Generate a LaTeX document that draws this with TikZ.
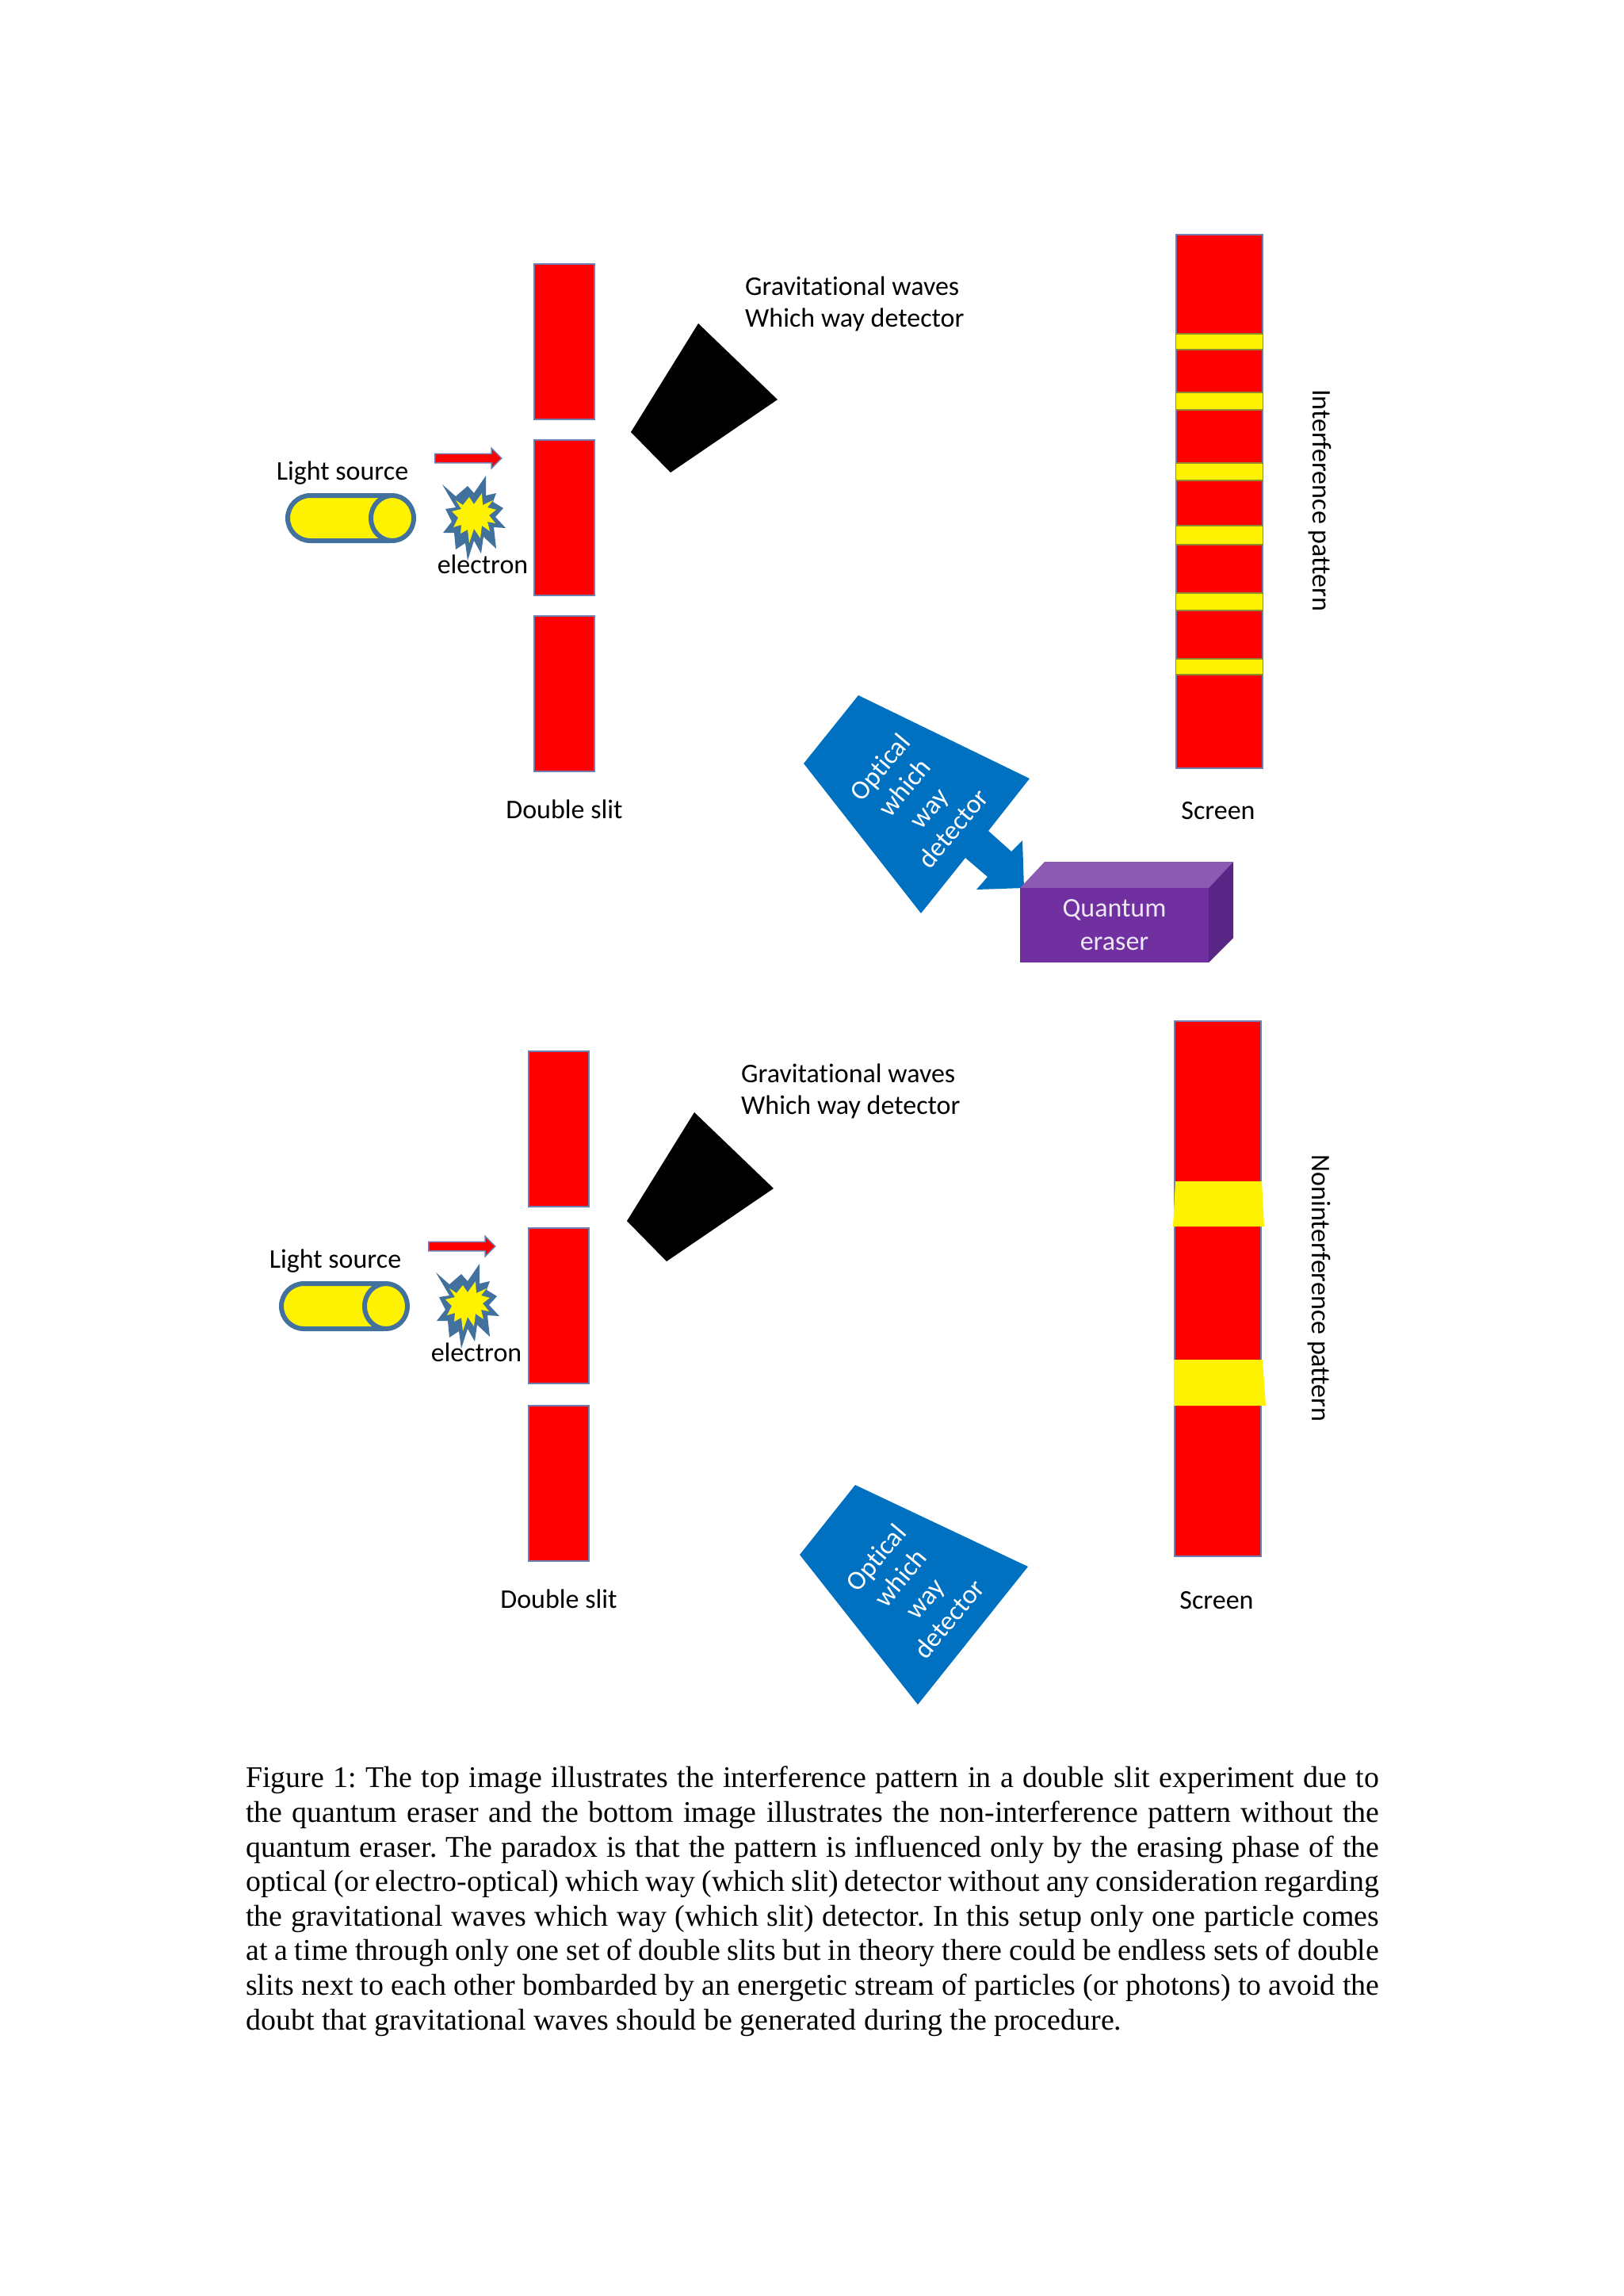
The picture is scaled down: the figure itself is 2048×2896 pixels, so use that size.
\documentclass[tikz,border=0pt]{standalone}
\usepackage{fontspec}
\setmainfont{Liberation Serif}
\newfontfamily\labelfont[Ligatures=NoCommon]{Carlito}
\usetikzlibrary{arrows.meta,positioning,shapes.geometric,shapes.arrows,shapes.misc}
\definecolor{edgeblue}{HTML}{41719C}
\definecolor{baredge}{HTML}{6F7FB0}
\definecolor{optblue}{HTML}{0070C0}
\definecolor{erasefront}{HTML}{7030A0}
\definecolor{erasetop}{HTML}{8C59B3}
\definecolor{eraseside}{HTML}{5A2686}
\tikzset{
  lbl/.style={font=\labelfont\fontsize{34}{40}\selectfont, inner sep=0pt, align=center},
  slitbar/.style={draw=baredge, line width=2pt, fill=red, minimum width=76pt, minimum height=196pt, inner sep=0pt},
  screenbar/.style={draw=baredge, line width=2pt, fill=red, minimum width=109pt, inner sep=0pt},
  fringe/.style={draw=olive!70!baredge, line width=1.5pt, fill=yellow, minimum width=110pt, inner sep=0pt},
  lightsrc/.style={rounded rectangle, draw=edgeblue, line width=6pt, fill=yellow, minimum width=157pt, minimum height=57pt, inner sep=0pt},
  srccap/.style={ellipse, draw=edgeblue, line width=6pt, fill=yellow, minimum width=54pt, minimum height=57pt, inner sep=0pt},
  beam/.style={single arrow, draw=baredge, line width=1.5pt, fill=red, minimum height=84pt, inner sep=5pt, single arrow tip angle=90, single arrow head extend=7pt},
  burst/.pic={
    \fill[edgeblue]
      (-40,-41) -- (-23,-26) -- (-8,-39) -- (0,-30) -- (15,-52) -- (15,-27) -- (28,-30) -- (24,-19)
      -- (37,-11) -- (27,0) -- (40,14) -- (25,13) -- (28,40) -- (12,25) -- (9,46) -- (0,30)
      -- (-8,55) -- (-11,33) -- (-23,41) -- (-25,20) -- (-39,20) -- (-28,6) -- (-36,-10) -- (-23,-12) -- cycle;
    \fill[yellow]
      (-23,-21) -- (-14,-15) -- (-6,-25) -- (0,-16) -- (10,-30) -- (11,-15) -- (24,-21) -- (17,-12)
      -- (28,-9) -- (19,-2) -- (27,8) -- (17,6) -- (20,18) -- (10,11) -- (8,27) -- (0,15)
      -- (-6,33) -- (-8,16) -- (-17,21) -- (-16,10) -- (-26,13) -- (-20,1) -- (-28,-7) -- (-16,-10) -- cycle;
  },
  gravdet/.pic={
    \fill[black] (881,408) -- (981,504) -- (846,596) -- (796,545) -- cycle;
  }
}

\begin{document}
\begin{tikzpicture}[x=1pt,y=-1pt]
  \useasboundingbox (0,0) rectangle (2048,2896);

  % top setup
  \node[lbl] (source1lbl) at (432,597) {Light source};
  \node[lightsrc] (source1) at (441.5,653.5) {};
  \node[srccap] (cap1) at (495,653.5) {};
  \node[beam] (beam1) at (588,578) {};
  \pic at (598,652) {burst};
  \node[lbl] (electron1) at (609,712) {electron};
  \node[slitbar] (slit1a) at (712,431) {};
  \node[slitbar] (slit1b) at (712,653) {};
  \node[slitbar] (slit1c) at (712,875) {};
  \node[lbl] (slit1lbl) at (712,1021) {Double slit};
  \pic at (0,0) {gravdet};
  \node[lbl, align=left, anchor=west] (grav1lbl) at (940,383) {Gravitational waves\\Which way detector};
  \node[screenbar, minimum height=673pt] (screen1) at (1538.5,632) {};
  \foreach \ypos/\bandh [count=\i] in {431/20,506/22,595/22,675/24,759/22,841/20}
    \node[fringe, minimum height=\bandh pt] (band\i) at (1538.5,\ypos) {};
  \node[lbl, rotate=-90] (pattern1) at (1665,631) {Interference pattern};
  \node[lbl] (screen1lbl) at (1537,1023) {Screen};

  \fill[optblue] (1083,877) -- (1299,982) -- (1247,1048) -- (1276,1074) -- (1290,1060) -- (1292,1120)
    -- (1232,1122) -- (1246,1106) -- (1218,1082) -- (1162,1152) -- (1014,963) -- cycle;
  \node[lbl, white, rotate=50] (optical1) at (1156,1006) {Optical\\which\\way\\detector};

  \fill[erasetop] (1287,1120) -- (1318,1087) -- (1556,1087) -- (1525,1120) -- cycle;
  \fill[eraseside] (1525,1120) -- (1556,1087) -- (1556,1183) -- (1525,1214) -- cycle;
  \node[lbl, fill=erasefront, text=white!88!erasefront, minimum width=238pt, minimum height=94pt] (eraser) at (1406,1167) {Quantum\\[2pt]eraser};

  % bottom setup
  \node[lbl] (source2lbl) at (423,1591) {Light source};
  \node[lightsrc] (source2) at (433.5,1647.5) {};
  \node[srccap] (cap2) at (487,1647.5) {};
  \node[beam] (beam2) at (580,1572) {};
  \pic at (590,1646) {burst};
  \node[lbl] (electron2) at (601,1706) {electron};
  \node[slitbar] (slit2a) at (705,1424) {};
  \node[slitbar] (slit2b) at (705,1647) {};
  \node[slitbar] (slit2c) at (705,1871) {};
  \node[lbl] (slit2lbl) at (705,2017) {Double slit};
  \pic at (-5,995) {gravdet};
  \node[lbl, align=left, anchor=west] (grav2lbl) at (935,1376) {Gravitational waves\\Which way detector};
  \node[screenbar, minimum height=675pt] (screen2) at (1536.5,1625.5) {};
  \fill[yellow] (1483,1490) -- (1592,1490) -- (1595,1547) -- (1480,1547) -- cycle;
  \fill[yellow] (1481,1715) -- (1593,1715) -- (1597,1773) -- (1481,1773) -- cycle;
  \node[lbl, rotate=-90] (pattern2) at (1664,1625) {Noninterference pattern};
  \node[lbl] (screen2lbl) at (1535,2019) {Screen};

  \fill[optblue] (1079,1873) -- (1297,1976) -- (1158,2150) -- (1009,1961) -- cycle;
  \node[lbl, white, rotate=50] (optical2) at (1151,2003) {Optical\\which\\way\\detector};

  % caption
  \node[anchor=north west, inner sep=0pt, text width=1430pt, align=justify, font=\fontsize{37.9}{43.6}\selectfont\frenchspacing] (caption) at (310,2228)
    {Figure 1: The top image illustrates the interference pattern in a double slit experiment due to the quantum eraser and the bottom image illustrates the non-interference pattern without the quantum eraser. The paradox is that the pattern is influenced only by the erasing phase of the optical (or electro-optical) which way (which slit) detector without any consideration regarding the gravitational waves which way (which slit) detector. In this setup only one particle comes at a time through only one set of double slits but in theory there could be endless sets of double slits next to each other bombarded by an energetic stream of particles (or photons) to avoid the doubt that gravitational waves should be generated during the procedure.};
\end{tikzpicture}
\end{document}
